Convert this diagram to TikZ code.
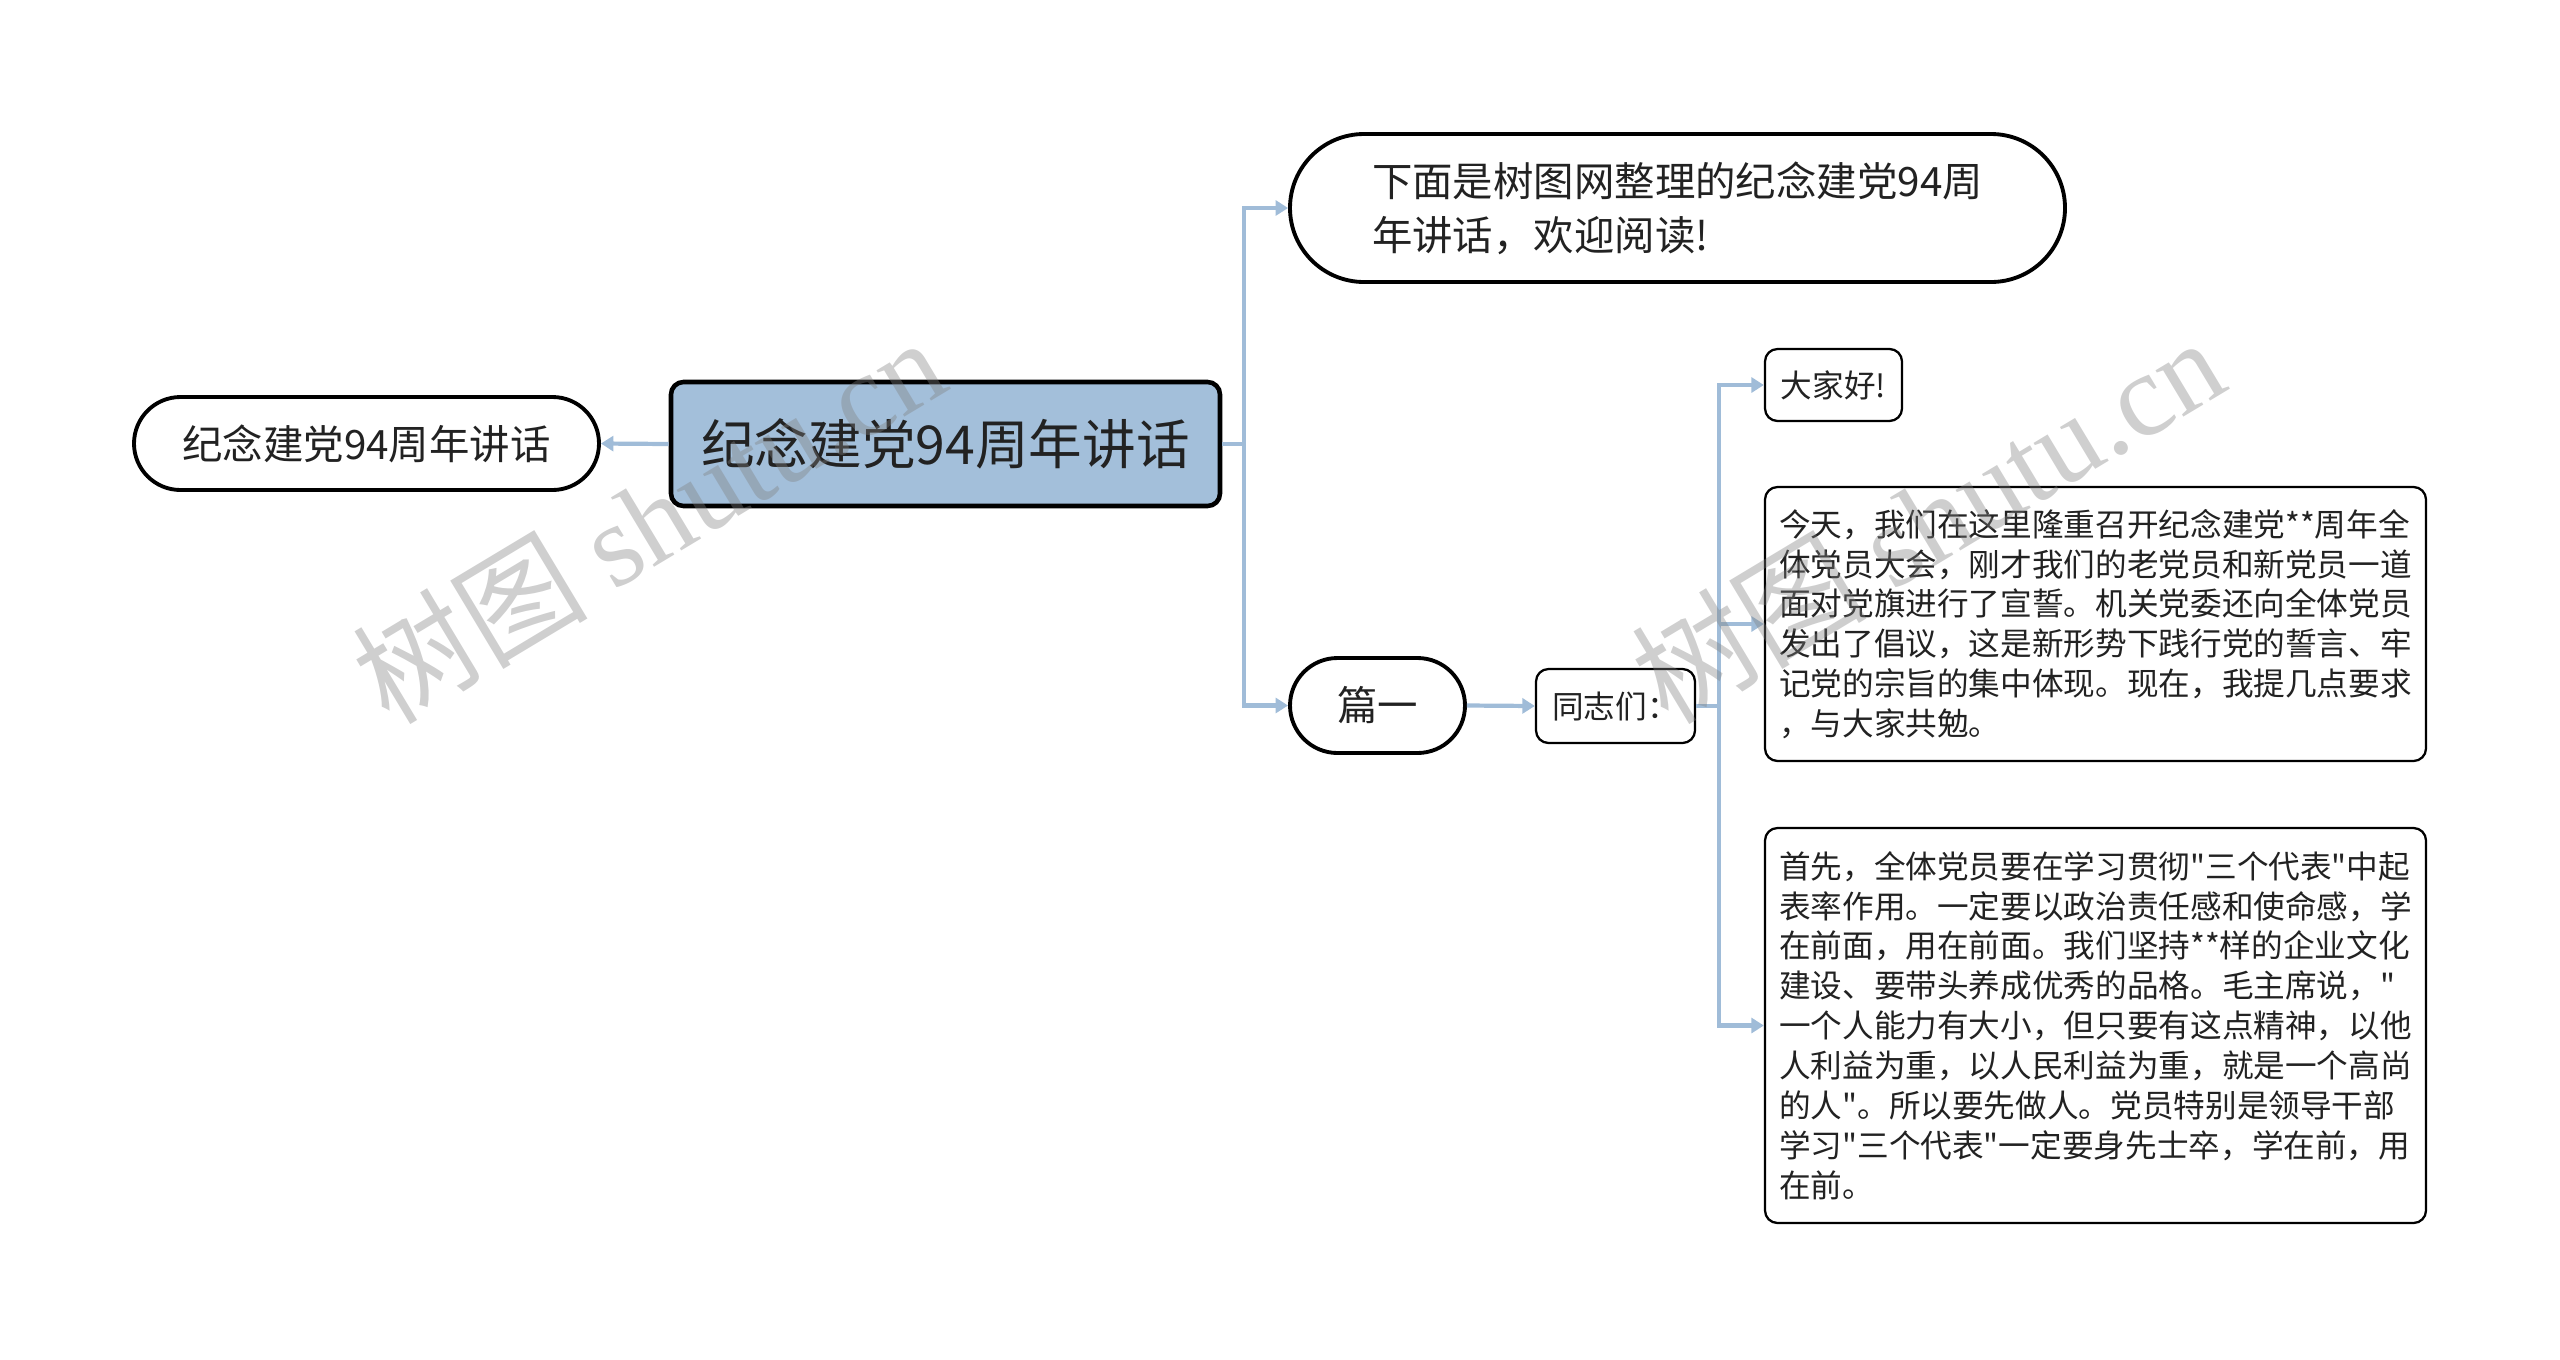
\documentclass[tikz,border=0pt]{standalone}
\usepackage{fontspec}
\setmainfont{Noto Sans CJK SC}[Ligatures=TeXOff]
\newfontfamily\wmlatin{Liberation Serif}[Ligatures=TeXOff]
\usetikzlibrary{arrows.meta,shapes.misc}
\definecolor{rootblue}{HTML}{A3BFDA}
\definecolor{linkblue}{HTML}{A0BCD8}
\definecolor{inkgray}{HTML}{222222}

\begin{document}
\begin{tikzpicture}[every node/.style={text=inkgray, inner sep=0pt},
  topic/.style={draw=black, line width=2.6pt, rounded corners=0.25cm, fill=rootblue,
    font=\fontsize{30.5}{36}\selectfont},
  pill/.style={draw=black, line width=2.2pt, rounded rectangle, fill=white,
    font=\fontsize{23}{30.6}\selectfont, align=left},
  leaf/.style={draw=black, line width=1.3pt, rounded corners=0.25cm, fill=white,
    font=\fontsize{18}{22.7}\selectfont, align=left},
  link/.style={draw=linkblue, line width=2.4pt},
  linkto/.style={link, -{Triangle[length=0.25cm,width=0.3cm]}},
  wmark/.style={text=gray, opacity=0.38, rotate=31, font=\fontsize{67}{70}\selectfont}]
  \useasboundingbox (0,0) rectangle (51.2,-27.18);

  % main nodes
  \node[topic, minimum width=10.98cm, minimum height=2.48cm] (root) at (18.91,-8.88) {纪念建党94周年讲话};
  \node[pill, minimum width=9.30cm, minimum height=1.86cm] (left) at (7.33,-8.87) {纪念建党94周年讲话};
  \node[pill, minimum width=15.50cm, minimum height=2.96cm] (top) at (33.55,-4.16)
    {下面是树图网整理的纪念建党94周\\年讲话，欢迎阅读!};
  \node[pill, minimum width=3.50cm, minimum height=1.90cm] (pian) at (27.55,-14.11) {篇一};
  \node[leaf, minimum width=3.18cm, minimum height=1.48cm] (tzm) at (32.31,-14.12) {同志们：};

  % leaves
  \node[leaf, minimum width=2.74cm, minimum height=1.44cm] (dajia) at (36.67,-7.70) {大家好!};
  \node[leaf, minimum width=13.22cm, minimum height=5.48cm] (para1) at (41.91,-12.48)
    {今天，我们在这里隆重召开纪念建党**周年全\\
     体党员大会，刚才我们的老党员和新党员一道\\
     面对党旗进行了宣誓。机关党委还向全体党员\\
     发出了倡议，这是新形势下践行党的誓言、牢\\
     记党的宗旨的集中体现。现在，我提几点要求\\
     ，与大家共勉。};
  \node[leaf, minimum width=13.22cm, minimum height=7.90cm] (para2) at (41.91,-20.51)
    {首先，全体党员要在学习贯彻"三个代表"中起\\
     表率作用。一定要以政治责任感和使命感，学\\
     在前面，用在前面。我们坚持**样的企业文化\\
     建设、要带头养成优秀的品格。毛主席说，"\\
     一个人能力有大小，但只要有这点精神，以他\\
     人利益为重，以人民利益为重，就是一个高尚\\
     的人"。所以要先做人。党员特别是领导干部\\
     学习"三个代表"一定要身先士卒，学在前，用\\
     在前。};

  % connectors
  \coordinate (j1) at (24.88,-8.88);
  \coordinate (j2) at (34.38,-14.12);
  \draw[linkto] (root.west) -- (left.east);
  \draw[link] (root.east) -- (j1);
  \draw[linkto] (j1) |- (top);
  \draw[linkto] (j1) |- (pian);
  \draw[linkto] (pian.east) -- (tzm.west);
  \draw[link] (tzm.east) -- (j2);
  \draw[linkto] (j2) |- (dajia);
  \draw[linkto] (j2) |- (para1);
  \draw[linkto] (j2) |- (para2);

  % watermarks
  \node[wmark] (wm1) at (12.96,-10.38) {树图 {\wmlatin shutu.cn}};
  \node[wmark] (wm2) at (38.54,-10.38) {树图 {\wmlatin shutu.cn}};
  \node[wmark] (wm3) at (12.70,-30.60) {树图 {\wmlatin shutu.cn}};
  \node[wmark] (wm4) at (38.28,-30.60) {树图 {\wmlatin shutu.cn}};
\end{tikzpicture}
\end{document}
